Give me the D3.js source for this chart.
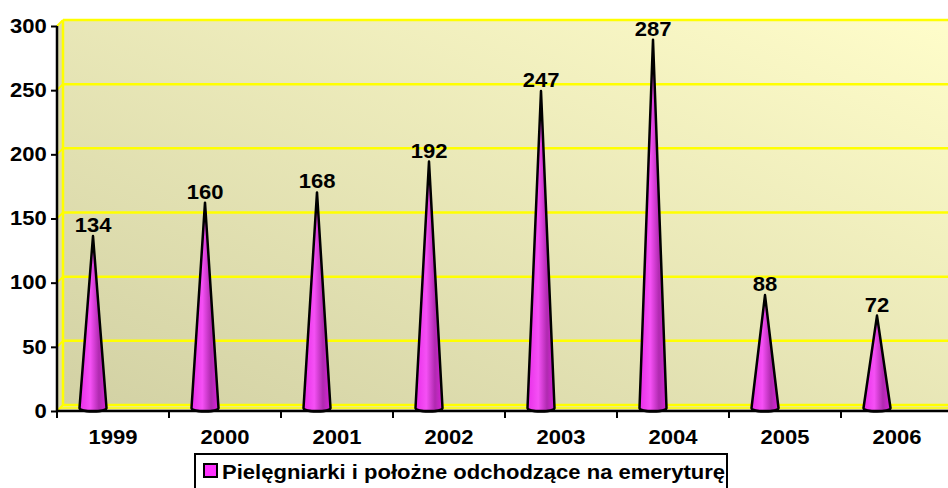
<!DOCTYPE html>
<html>
<head>
<meta charset="utf-8">
<script src="https://cdn.jsdelivr.net/npm/d3@7"></script>
<style>
  body { margin: 0; background: #fff; }
  svg text { font-family: Arial, "Liberation Sans", sans-serif; font-weight: bold; fill: #000; }
</style>
</head>
<body>
<svg id="chart" width="948" height="488"></svg>
<script>
// dane
const lata = ["1999", "2000", "2001", "2002", "2003", "2004", "2005", "2006"];
const wartosci = [134, 160, 168, 192, 247, 287, 88, 72];
const ticksY = [0, 50, 100, 150, 200, 250, 300];
const nazwaSerii = "Pielęgniarki i położne odchodzące na emeryturę";

// wymiary
const lewo = 57, dol = 411, gora = 26, prawo = 953;
const glebia = 6; // przesuniecie 3D
const rozciag = 1.13; // tekst w oryginale jest troche rozciagniety w poziomie
const rozmiar = "19.5px";

const svg = d3.select("#chart");

const x = d3.scaleBand().domain(lata).range([lewo, prawo]);
const y = d3.scaleLinear().domain([0, 300]).range([dol, gora]);

const defs = svg.append("defs");

// tlo sciany
const tlo = defs.append("linearGradient").attr("id", "tlo")
    .attr("x1", "0%").attr("y1", "100%").attr("x2", "100%").attr("y2", "0%");
tlo.append("stop").attr("offset", "0%").attr("stop-color", "#d2d1a4");
tlo.append("stop").attr("offset", "100%").attr("stop-color", "#fffdca");

// stozki
const stozek = defs.append("linearGradient").attr("id", "stozek")
    .attr("x1", "0%").attr("y1", "0%").attr("x2", "100%").attr("y2", "0%");
stozek.append("stop").attr("offset", "0%").attr("stop-color", "#e82ee8");
stozek.append("stop").attr("offset", "40%").attr("stop-color", "#f550f5");
stozek.append("stop").attr("offset", "72%").attr("stop-color", "#b02ab0");
stozek.append("stop").attr("offset", "100%").attr("stop-color", "#d822d8");

// sciana tylna
svg.append("rect")
    .attr("x", lewo + glebia).attr("y", y(300) - glebia)
    .attr("width", prawo - lewo).attr("height", y(0) - y(300))
    .attr("fill", "url(#tlo)");
// sciana boczna
svg.append("path")
    .attr("d", `M${lewo},${y(300)}L${lewo + glebia},${y(300) - glebia}L${lewo + glebia},${y(0) - glebia}L${lewo},${y(0)}Z`)
    .attr("fill", "#dcdbae");
// podloga
svg.append("path")
    .attr("d", `M${lewo},${y(0)}L${lewo + glebia},${y(0) - glebia}L${prawo + glebia},${y(0) - glebia}L${prawo},${y(0)}Z`)
    .attr("fill", "#e8e6ae");

// linie siatki
ticksY.forEach(t => {
    svg.append("line")
        .attr("x1", lewo + glebia).attr("x2", prawo + glebia)
        .attr("y1", y(t) - glebia).attr("y2", y(t) - glebia)
        .attr("stroke", "#ffff00").attr("stroke-width", 2.5);
    svg.append("line")
        .attr("x1", lewo).attr("x2", lewo + glebia)
        .attr("y1", y(t)).attr("y2", y(t) - glebia)
        .attr("stroke", "#ffff00").attr("stroke-width", 2);
});
svg.append("line")
    .attr("x1", lewo + glebia).attr("x2", lewo + glebia)
    .attr("y1", y(300) - glebia).attr("y2", y(0) - glebia)
    .attr("stroke", "#ffff00").attr("stroke-width", 2.5);
svg.append("line")
    .attr("x1", lewo + 3).attr("x2", prawo)
    .attr("y1", y(0) - 3).attr("y2", y(0) - 3)
    .attr("stroke", "#ffff00").attr("stroke-width", 1.5);

// stozki
const polBazy = 13.5, ry = 3.5;
lata.forEach((rok, i) => {
    const cx = x(rok) + x.bandwidth() / 2 - 20;
    const baza = y(0) - 3;
    const szczyt = y(wartosci[i]) - 3;
    svg.append("path")
        .attr("d", `M${cx - polBazy},${baza}L${cx},${szczyt}L${cx + polBazy},${baza}` +
                   `A${polBazy},${ry} 0 0 1 ${cx - polBazy},${baza}Z`)
        .attr("fill", "url(#stozek)")
        .attr("stroke", "#000").attr("stroke-width", 2.5)
        .attr("stroke-linejoin", "round");
    svg.append("text")
        .attr("transform", `translate(${cx},${szczyt - 4}) scale(${rozciag},1)`)
        .attr("text-anchor", "middle")
        .style("font-size", rozmiar)
        .text(wartosci[i]);
});

// os Y
const osY = svg.append("g").attr("transform", `translate(${lewo},0)`)
    .call(d3.axisLeft(y).tickValues(ticksY).tickSize(6).tickPadding(3));
osY.select(".domain").attr("stroke", "#000").attr("stroke-width", 2.5).attr("d", `M0,${y(300)}V${y(0)}`);
osY.selectAll(".tick line").attr("stroke", "#000").attr("stroke-width", 2);
osY.selectAll(".tick text").style("font-size", rozmiar).attr("font-family", null)
    .attr("transform", `scale(${rozciag},1)`);

// os X
const osX = svg.append("g").attr("transform", `translate(0,${dol})`)
    .call(d3.axisBottom(x).tickSize(0).tickPadding(19));
osX.select(".domain").attr("stroke", "#000").attr("stroke-width", 2.5).attr("d", `M${lewo},0H${prawo}`);
osX.selectAll(".tick text").style("font-size", rozmiar).attr("font-family", null)
    .attr("transform", `scale(${rozciag},1)`);
lata.forEach(rok => {
    osX.append("line")
        .attr("x1", x(rok)).attr("x2", x(rok))
        .attr("y1", 0).attr("y2", 7)
        .attr("stroke", "#000").attr("stroke-width", 2);
});

// legenda
const leg = svg.append("g");
leg.append("rect")
    .attr("x", 195).attr("y", 454).attr("width", 532).attr("height", 40)
    .attr("fill", "#fff").attr("stroke", "#000").attr("stroke-width", 2);
leg.append("rect")
    .attr("x", 204).attr("y", 464).attr("width", 13).attr("height", 13)
    .attr("fill", "#ff33ff").attr("stroke", "#000").attr("stroke-width", 2);
leg.append("text")
    .attr("transform", `translate(222,478.5) scale(${rozciag},1)`)
    .style("font-size", rozmiar)
    .text(nazwaSerii);
</script>
</body>
</html>
